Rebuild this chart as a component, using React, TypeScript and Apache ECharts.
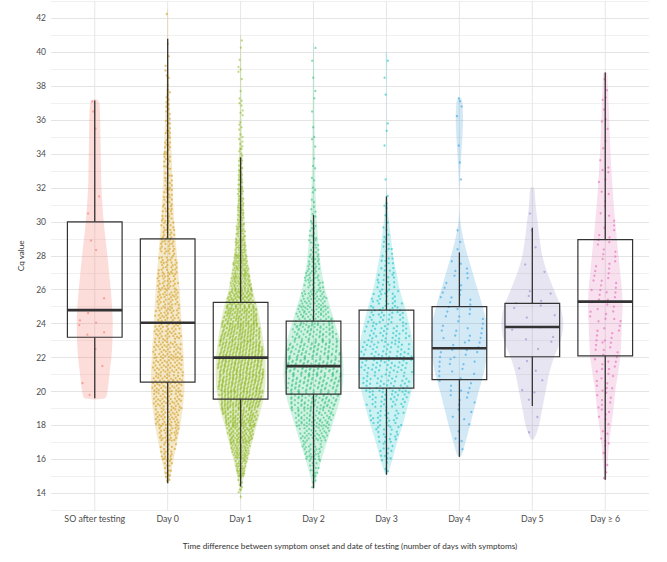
import React, { useEffect, useRef } from 'react';
import * as echarts from 'echarts';

const categories = ['SO after testing', 'Day 0', 'Day 1', 'Day 2', 'Day 3', 'Day 4', 'Day 5', 'Day ≥ 6'];

// boxplot stats: [lower whisker, Q1, median, Q3, upper whisker]
const boxSO = [19.6, 23.2, 24.8, 30.0, 37.15];
const boxDay0 = [14.6, 20.55, 24.05, 29.0, 40.8];
const boxDay1 = [14.4, 19.55, 22.0, 25.25, 33.8];
const boxDay2 = [14.3, 19.85, 21.5, 24.15, 30.4];
const boxDay3 = [15.1, 20.2, 21.95, 24.8, 31.5];
const boxDay4 = [16.15, 20.7, 22.55, 25.0, 28.2];
const boxDay5 = [19.15, 22.05, 23.8, 25.2, 29.65];
const boxDay6 = [14.8, 22.1, 25.3, 28.95, 38.8];

// violin density profiles: [Cq value, relative density]
const violinSO = [[19.6, 30], [20, 38], [21, 44], [22, 50], [23, 53], [24, 54], [25, 52], [26, 48], [28, 38], [30, 27], [32, 20], [33, 19], [35, 17], [37, 14], [37.2, 6]];
const violinDay0 = [[14.6, 3], [15, 8], [16, 18], [17, 28], [18, 38], [19, 45], [20, 50], [21, 50], [22, 48], [24, 42], [26, 36], [28, 28], [30, 20], [32, 15], [34, 12], [36, 8], [38, 4], [40, 2], [42.5, 1]];
const violinDay1 = [[13.6, 1], [14, 2], [15, 10], [16, 22], [17, 35], [18, 48], [19, 62], [20, 72], [21, 75], [22, 74], [23, 68], [24, 60], [25, 50], [26, 36], [27, 28], [28, 20], [30, 12], [32, 8], [34, 5], [36, 3], [38, 2], [41, 1]];
const violinDay2 = [[14.3, 2], [15, 10], [16, 24], [17, 40], [18, 56], [19, 72], [20, 85], [21, 90], [22, 88], [23, 80], [24, 65], [25, 50], [26, 35], [27, 25], [28, 18], [30, 10], [32, 6], [36, 3], [40.5, 1]];
const violinDay3 = [[15.1, 3], [16, 18], [17, 32], [18, 48], [19, 62], [20, 75], [21, 84], [22, 85], [23, 78], [24, 68], [25, 55], [26, 40], [27, 30], [28, 20], [29, 14], [30, 8], [31, 4], [32, 1], [33, 0], [35, 1], [38, 1], [40, 2]];
const violinDay4 = [[16.2, 5], [17, 18], [18, 32], [19, 45], [20, 58], [21, 72], [22, 82], [23, 85], [24, 82], [25, 70], [26, 55], [27, 40], [28, 25], [29, 12], [30, 3], [31, 0], [32, 1], [33, 3], [34, 6], [35, 9], [36, 11], [37, 9], [37.3, 4]];
const violinDay5 = [[17.2, 5], [18, 20], [19, 30], [20, 40], [21, 50], [22, 65], [23, 85], [24, 93], [25, 85], [26, 65], [27, 45], [28, 30], [29, 22], [30, 16], [31, 10], [32, 5]];
const violinDay6 = [[14.8, 3], [15, 4], [16, 8], [17, 12], [18, 18], [19, 25], [20, 30], [21, 38], [22, 45], [23, 48], [24, 50], [25, 52], [26, 50], [27, 45], [28, 40], [30, 30], [32, 22], [34, 16], [36, 12], [38, 8], [38.8, 5]];

// number of samples per 1-unit Cq bin, bins start at 13 ([13,14), [14,15), ... [42,43))
const BIN_START = 13;
const countsSO = [0, 0, 0, 0, 0, 0, 1, 1, 1, 1, 3, 3, 1, 0, 0, 2, 0, 1, 1, 0, 0, 0, 1, 1, 1, 0, 0, 0, 0, 0];
const countsDay0 = [0, 3, 13, 23, 33, 42, 48, 50, 49, 46, 43, 40, 38, 34, 30, 26, 22, 19, 16, 14, 13, 12, 10, 8, 6, 4, 2, 1, 0, 1];
const countsDay1 = [1, 8, 35, 64, 92, 123, 147, 163, 165, 156, 141, 121, 95, 70, 53, 35, 28, 22, 18, 15, 11, 8, 6, 5, 3, 3, 2, 2, 0, 0];
const countsDay2 = [0, 4, 14, 30, 47, 64, 78, 88, 90, 85, 73, 58, 43, 30, 21, 14, 10, 6, 4, 3, 3, 2, 2, 1, 2, 1, 1, 1, 0, 0];
const countsDay3 = [0, 0, 4, 11, 19, 27, 34, 40, 42, 41, 37, 31, 24, 17, 12, 8, 5, 3, 2, 1, 0, 1, 2, 0, 1, 1, 1, 0, 0, 0];
const countsDay4 = [0, 0, 0, 1, 3, 5, 6, 8, 10, 11, 11, 10, 8, 6, 4, 2, 1, 0, 0, 1, 1, 1, 0, 2, 2, 0, 0, 0, 0, 0];
const countsDay5 = [0, 0, 0, 0, 1, 1, 2, 2, 3, 2, 4, 3, 6, 0, 2, 1, 1, 1, 0, 0, 0, 0, 0, 0, 0, 0, 0, 0, 0, 0];
const countsDay6 = [0, 1, 2, 3, 4, 6, 7, 8, 9, 9, 9, 10, 10, 8, 7, 6, 5, 4, 3, 3, 3, 2, 2, 2, 3, 1, 0, 0, 0, 0];

const boxes = [boxSO, boxDay0, boxDay1, boxDay2, boxDay3, boxDay4, boxDay5, boxDay6];
const violins = [violinSO, violinDay0, violinDay1, violinDay2, violinDay3, violinDay4, violinDay5, violinDay6];
const counts = [countsSO, countsDay0, countsDay1, countsDay2, countsDay3, countsDay4, countsDay5, countsDay6];

const violinFill = [
  'rgba(248,118,109,0.25)', 'rgba(205,150,0,0.2)', 'rgba(124,174,0,0.2)', 'rgba(0,190,103,0.18)',
  'rgba(0,191,196,0.2)', 'rgba(58,155,213,0.22)', 'rgba(142,124,195,0.2)', 'rgba(224,102,176,0.2)',
];
const pointColor = ['#F8766D', '#D39B1A', '#7CAE00', '#2DBE72', '#1BBFC4', '#2EA3E6', '#9A86C9', '#E066B8'];
const pointOpacity = [0.6, 0.6, 0.45, 0.55, 0.6, 0.6, 0.6, 0.6];

const W_SCALE = 1 / 219; // density units -> category units
const BOX_HALF = 0.375;

function widthAt(prof: number[][], y: number): number {
  if (y <= prof[0][0]) return prof[0][1];
  for (let i = 1; i < prof.length; i++) {
    if (y <= prof[i][0]) {
      const [y0, w0] = prof[i - 1];
      const [y1, w1] = prof[i];
      return w0 + ((w1 - w0) * (y - y0)) / (y1 - y0);
    }
  }
  return prof[prof.length - 1][1];
}

// quasi-random placement of each bin's samples inside the violin (sina-like)
const A1 = 0.7548776662;
const A2 = 0.569840291;
function buildPoints(c: number): number[][] {
  const prof = violins[c];
  const vmin = prof[0][0];
  const vmax = prof[prof.length - 1][0];
  const out: number[][] = [];
  let j = 0;
  counts[c].forEach((n, b) => {
    if (!n) return;
    const lo = Math.max(BIN_START + b, vmin);
    const hi = Math.min(BIN_START + b + 1, vmax);
    for (let k = 0; k < n; k++) {
      j++;
      const fy = n === 1 ? 0.5 : (0.5 + j * A2 + c * 0.29) % 1;
      const y = lo + (hi - lo) * fy;
      const u = ((0.5 + j * A1 + c * 0.137) % 1) * 2 - 1;
      const w = Math.max(widthAt(prof, y) * W_SCALE * 0.92, 0.03);
      out.push([c + u * w, y]);
    }
  });
  return out;
}

const FONT = 'Lato';

export default function App() {
  const ref = useRef<HTMLDivElement>(null);
  useEffect(() => {
    if (!ref.current) return;
    const chart = echarts.init(ref.current, undefined, { renderer: 'svg' });

    const violinSeries = {
      type: 'custom',
      z: 1,
      clip: false,
      data: categories.map((_, i) => [i, 20]),
      renderItem: (params: any, api: any) => {
        const i = params.dataIndex;
        const prof = violins[i];
        const right = prof.map(([y, w]) => api.coord([i + w * W_SCALE, y]));
        const left = prof.slice().reverse().map(([y, w]) => api.coord([i - w * W_SCALE, y]));
        const top = api.coord([i, 43]);
        const bot = api.coord([i, 13]);
        return {
          type: 'group',
          children: [
            { type: 'line', shape: { x1: top[0], y1: top[1], x2: bot[0], y2: bot[1] }, style: { stroke: '#e6e6e6', lineWidth: 1 } },
            { type: 'polygon', shape: { points: right.concat(left), smooth: 0.3 }, style: { fill: violinFill[i], stroke: 'none' } },
          ],
        };
      },
    };

    const pointSeries = categories.map((_, c) => ({
      type: 'scatter',
      z: 2,
      symbolSize: 2.3,
      itemStyle: { color: pointColor[c], opacity: pointOpacity[c] },
      data: buildPoints(c),
      silent: true,
    }));

    const boxSeries = {
      type: 'custom',
      z: 3,
      data: categories.map((_, i) => [i, boxes[i][2]]),
      renderItem: (params: any, api: any) => {
        const i = params.dataIndex;
        const [lw, q1, med, q3, uw] = boxes[i];
        const tl = api.coord([i - BOX_HALF, q3]);
        const br = api.coord([i + BOX_HALF, q1]);
        const ml = api.coord([i - BOX_HALF, med]);
        const mr = api.coord([i + BOX_HALF, med]);
        const wTop = api.coord([i, uw]);
        const wQ3 = api.coord([i, q3]);
        const wQ1 = api.coord([i, q1]);
        const wBot = api.coord([i, lw]);
        const stroke = '#333333';
        return {
          type: 'group',
          children: [
            { type: 'line', shape: { x1: wTop[0], y1: wTop[1], x2: wQ3[0], y2: wQ3[1] }, style: { stroke, lineWidth: 1.3 } },
            { type: 'line', shape: { x1: wQ1[0], y1: wQ1[1], x2: wBot[0], y2: wBot[1] }, style: { stroke, lineWidth: 1.3 } },
            { type: 'rect', shape: { x: tl[0], y: tl[1], width: br[0] - tl[0], height: br[1] - tl[1] }, style: { fill: 'none', stroke, lineWidth: 1.2 } },
            { type: 'line', shape: { x1: ml[0], y1: ml[1], x2: mr[0], y2: mr[1] }, style: { stroke, lineWidth: 2.6 } },
          ],
        };
      },
    };

    chart.setOption({
      animation: false,
      backgroundColor: '#ffffff',
      grid: { left: 51, right: 18, top: 1.3, bottom: 51.7 },
      xAxis: {
        type: 'value',
        min: -0.6,
        max: 7.6,
        name: 'Time difference between symptom onset and date of testing (number of days with symptoms)',
        nameLocation: 'middle',
        nameGap: 32,
        nameTextStyle: { fontFamily: FONT, fontSize: 8.2, color: '#333' },
        axisLine: { show: false },
        axisTick: { show: false },
        splitLine: { show: false },
        axisLabel: {
          customValues: [0, 1, 2, 3, 4, 5, 6, 7],
          formatter: (v: number) => categories[Math.round(v)] ?? '',
          fontFamily: FONT,
          fontSize: 8.8,
          color: '#4d4d4d',
          margin: 4,
        },
      },
      yAxis: {
        type: 'value',
        min: 13,
        max: 43,
        interval: 1,
        name: 'Cq value',
        nameLocation: 'middle',
        nameGap: 26,
        nameTextStyle: { fontFamily: FONT, fontSize: 8.2, color: '#333' },
        axisLine: { show: false },
        axisTick: { show: false },
        splitLine: { show: true, lineStyle: { color: ['#f0f0f0', '#e4e4e4'], width: 1 } },
        axisLabel: {
          formatter: (v: number) => (Math.round(v) % 2 === 0 ? String(v) : ''),
          fontFamily: FONT,
          fontSize: 8.5,
          color: '#4d4d4d',
          margin: 5,
        },
      },
      series: [violinSeries, ...pointSeries, boxSeries],
    });

    return () => chart.dispose();
  }, []);

  return <div ref={ref} style={{ position: 'fixed', left: 0, top: 0, width: 667, height: 562 }} />;
}
